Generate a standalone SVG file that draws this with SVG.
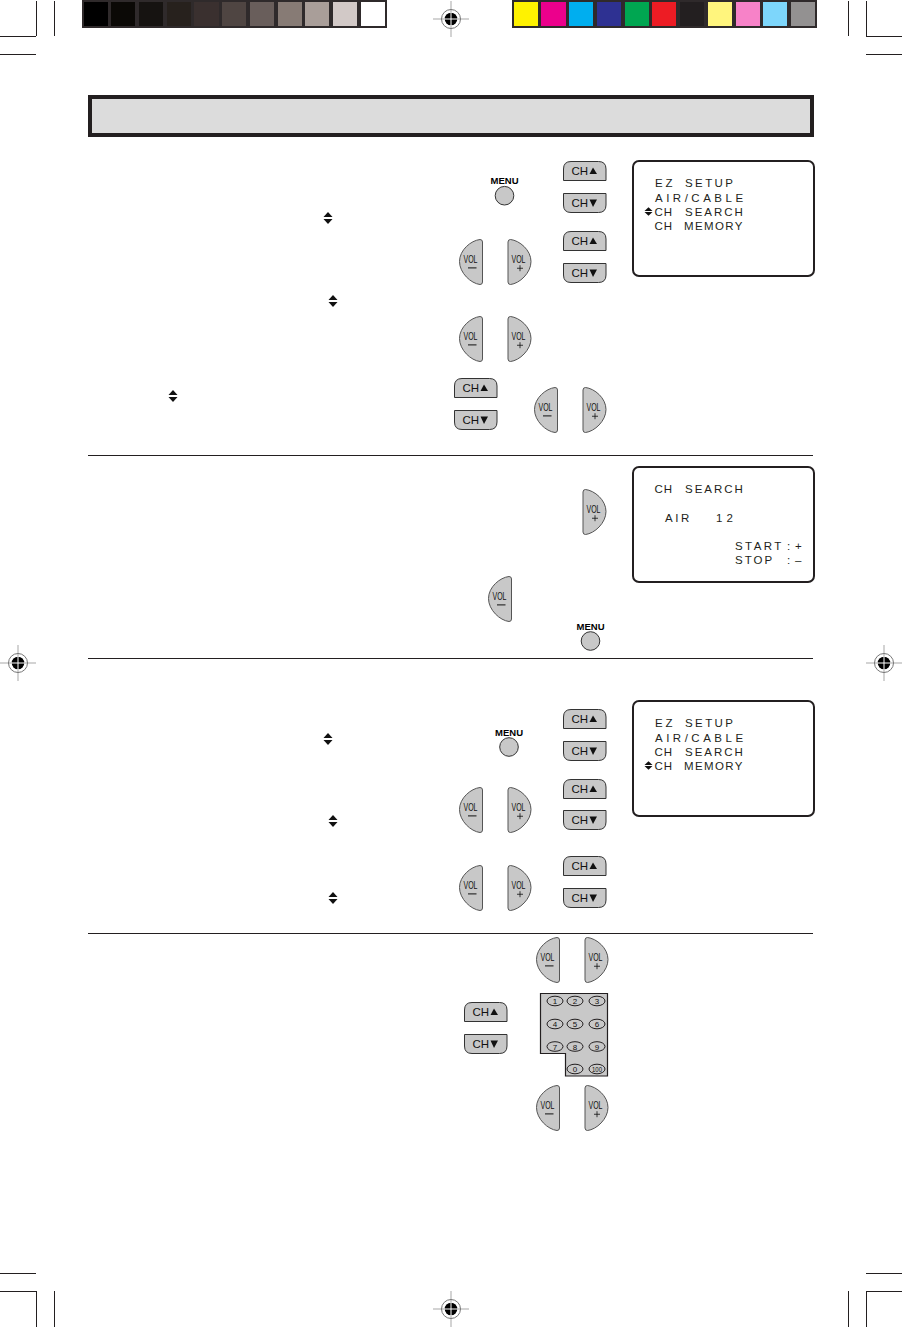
<svg xmlns="http://www.w3.org/2000/svg" width="902" height="1328" viewBox="0 0 902 1328">
<style>
text{font-family:"Liberation Sans",Arial,sans-serif;fill:#111}
.btn{fill:#c8c8c8;stroke:#333;stroke-width:1}
.vb{fill:#c8c8c8;stroke:#555;stroke-width:1}
.crop{stroke:#231f20;stroke-width:1;fill:none}
.rule{stroke:#231f20;stroke-width:1.2;fill:none}
.ch{font-size:11.5px}
.vol{font-size:11.5px}
.menu{font-size:9px;font-weight:bold;fill:#000}
.key{font-size:8px;text-anchor:middle}
.scr{fill:#fff;stroke:#231f20;stroke-width:2}
.st{font-size:11.5px;fill:#231f20}
.ink{fill:#111}
</style>
<defs>
<g id="chup"><path class="btn" d="M.5 19.5V8Q.5 .5 8 .5H35.500Q43 .5 43 8V19.500Z"/><text class="ch" x="8.500" y="13.500">CH</text><polygon class="ink" points="26.500,13 30,6.500 34,13"/></g>
<g id="chdn"><path class="btn" d="M.5 .5V12Q.5 19.500 8 19.500H35.500Q43 19.500 43 12V.5Z"/><text class="ch" x="8.500" y="14">CH</text><polygon class="ink" points="26.500,6.500 30,14 34,6.500"/></g>
<g id="volm"><path class="vb" d="M21 .5Q23.500 .5 23.500 3V43Q23.500 45.500 21 45.500C12 44.500 .5 34 .5 22.500C.5 11 12 1.500 21 .5Z"/><text class="vol" x="4.500" y="24" textLength="14" lengthAdjust="spacingAndGlyphs">VOL</text><rect class="ink" x="9" y="28.400" width="8.500" height="1"/></g>
<g id="volp"><path class="vb" d="M2.500 .5Q0 .5 0 3V43Q0 45.500 2.500 45.500C11.500 44.500 23 34 23 22.500C23 11 11.500 1.500 2.500 .5Z"/><text class="vol" x="3.500" y="24" textLength="14" lengthAdjust="spacingAndGlyphs">VOL</text><rect class="ink" x="9" y="28.800" width="6" height=".8"/><rect class="ink" x="11.600" y="26.200" width=".8" height="6"/></g>
<g id="menu"><text class="menu" x="-14" y="-11.500" textLength="28" lengthAdjust="spacingAndGlyphs">MENU</text><circle class="btn" cx="0" cy="0" r="9.300"/></g>
<g id="ud"><polygon class="ink" points="-4.500,-1 0,-6 4.500,-1"/><polygon class="ink" points="-4.500,1 0,6 4.500,1"/></g>
<g id="ud2"><polygon class="ink" points="-4,-.6 0,-4.200 4,-.6"/><polygon class="ink" points="-4,.6 0,4.200 4,.6"/></g>
<g id="reg"><path d="M-18 0H18M0 -18V18" stroke="#a7a7a7" stroke-width="1" fill="none"/><circle r="9.500" fill="none" stroke="#777" stroke-width="1"/><circle r="6.300" fill="#000"/><path d="M-7 0H7M0 -7V7" stroke="#fff" stroke-width="1" fill="none"/></g>
</defs>

<g id="color-bars">
<rect x="82" y="0" width="305" height="28" fill="#2f2a2b"/>
<rect x="84" y="2" width="24" height="24" fill="#000"/>
<rect x="111" y="2" width="24" height="24" fill="#0b0906"/>
<rect x="139" y="2" width="24" height="24" fill="#161311"/>
<rect x="167" y="2" width="24" height="24" fill="#27211d"/>
<rect x="194" y="2" width="25" height="24" fill="#3a302f"/>
<rect x="222" y="2" width="24" height="24" fill="#4f4542"/>
<rect x="250" y="2" width="24" height="24" fill="#695e5b"/>
<rect x="278" y="2" width="24" height="24" fill="#877b75"/>
<rect x="305" y="2" width="24" height="24" fill="#a99e99"/>
<rect x="333" y="2" width="24" height="24" fill="#d2c9c7"/>
<rect x="361" y="2" width="24" height="24" fill="#fff"/>
<rect x="512" y="0" width="305" height="28" fill="#2f2a2b"/>
<rect x="514" y="2" width="24" height="24" fill="#fff200"/>
<rect x="541" y="2" width="25" height="24" fill="#ec008c"/>
<rect x="569" y="2" width="24" height="24" fill="#00aeef"/>
<rect x="597" y="2" width="24" height="24" fill="#2e3192"/>
<rect x="625" y="2" width="24" height="24" fill="#00a651"/>
<rect x="652" y="2" width="24" height="24" fill="#ed1c24"/>
<rect x="680" y="2" width="24" height="24" fill="#231f20"/>
<rect x="708" y="2" width="24" height="24" fill="#fff57d"/>
<rect x="736" y="2" width="24" height="24" fill="#f782c8"/>
<rect x="763" y="2" width="24" height="24" fill="#7dd6fb"/>
<rect x="791" y="2" width="24" height="24" fill="#939191"/>
</g>

<g id="crop-marks">
<path class="crop" d="M0 36.500H36M0 54.500H36M36.500 1V36M54.500 1V36M848.500 1V36M866.500 1V36M866 36.500H902M866 54.500H902M0 1273.500H36M0 1291.500H36M36.500 1291V1327M54.500 1291V1327M848.500 1291V1327M866.500 1291V1327M866 1273.500H902M866 1291.500H902"/>
<use href="#reg" x="451" y="19"/>
<use href="#reg" x="18" y="663"/>
<use href="#reg" x="884" y="663"/>
<use href="#reg" x="451" y="1309"/>
</g>

<g id="header"><rect x="90" y="97" width="722" height="38" fill="#dcdcdc" stroke="#231f20" stroke-width="4"/></g>

<g id="connectors" class="rule">
<path d="M88 455.500H813M88 658.500H813M88 933.500H813"/>
</g>

<g id="section-1">
<use href="#menu" x="504.500" y="195.700"/>
<use href="#chup" x="563" y="161"/><use href="#chdn" x="563" y="193"/>
<use href="#chup" x="563" y="231"/><use href="#chdn" x="563" y="263"/>
<use href="#volm" x="459" y="239"/><use href="#volp" x="508" y="239"/>
<use href="#volm" x="459" y="316"/><use href="#volp" x="508" y="316"/>
<use href="#chup" x="454" y="378"/><use href="#chdn" x="454" y="410"/>
<use href="#volm" x="534" y="387"/><use href="#volp" x="583" y="387"/>
<use href="#ud" x="328" y="218"/><use href="#ud" x="333" y="301"/><use href="#ud" x="173" y="396"/>
</g>

<g id="screen-1">
<rect class="scr" x="633" y="161" width="181" height="115" rx="6"/>
<text class="st" y="187"><tspan x="655" letter-spacing="2.800">EZ</tspan><tspan x="685" letter-spacing="2.400">SETUP</tspan></text>
<text class="st" y="201.500" x="655" letter-spacing="3.500">AIR/CABLE</text>
<text class="st" y="215.500"><tspan x="654.500" letter-spacing="1">CH</tspan><tspan x="685" letter-spacing="2">SEARCH</tspan></text>
<text class="st" y="230"><tspan x="654.500" letter-spacing="1">CH</tspan><tspan x="684" letter-spacing="1.400">MEMORY</tspan></text>
<use href="#ud2" x="648.500" y="211.500"/>
</g>

<g id="section-2">
<use href="#volp" x="583" y="489"/>
<use href="#volm" x="488" y="576"/>
<use href="#menu" x="590.500" y="641"/>
</g>

<g id="screen-2">
<rect class="scr" x="633" y="467" width="181" height="115" rx="6"/>
<text class="st" y="493"><tspan x="654.500" letter-spacing="1">CH</tspan><tspan x="685" letter-spacing="2">SEARCH</tspan></text>
<text class="st" y="521.500"><tspan x="665" letter-spacing="2.600">AIR</tspan><tspan x="716" letter-spacing="4">12</tspan></text>
<text class="st" y="549.500"><tspan x="735" letter-spacing="2.400">START</tspan><tspan x="787">:</tspan><tspan x="795">+</tspan></text>
<text class="st" y="564"><tspan x="735" letter-spacing="2">STOP</tspan><tspan x="787">:</tspan><tspan x="795">–</tspan></text>
</g>

<g id="section-3">
<use href="#menu" x="509" y="747"/>
<use href="#chup" x="563" y="709"/><use href="#chdn" x="563" y="741"/>
<use href="#chup" x="563" y="779"/><use href="#chdn" x="563" y="810"/>
<use href="#volm" x="459" y="787"/><use href="#volp" x="508" y="787"/>
<use href="#chup" x="563" y="856"/><use href="#chdn" x="563" y="888"/>
<use href="#volm" x="459" y="865"/><use href="#volp" x="508" y="865"/>
<use href="#ud" x="328" y="739"/><use href="#ud" x="333" y="821"/><use href="#ud" x="333" y="898"/>
</g>

<g id="screen-3">
<rect class="scr" x="633" y="701" width="181" height="115" rx="6"/>
<text class="st" y="727"><tspan x="655" letter-spacing="2.800">EZ</tspan><tspan x="685" letter-spacing="2.400">SETUP</tspan></text>
<text class="st" y="741.500" x="655" letter-spacing="3.500">AIR/CABLE</text>
<text class="st" y="755.500"><tspan x="654.500" letter-spacing="1">CH</tspan><tspan x="685" letter-spacing="2">SEARCH</tspan></text>
<text class="st" y="770"><tspan x="654.500" letter-spacing="1">CH</tspan><tspan x="684" letter-spacing="1.400">MEMORY</tspan></text>
<use href="#ud2" x="648.500" y="765.500"/>
</g>

<g id="section-4">
<use href="#volm" x="536" y="937"/><use href="#volp" x="585" y="937"/>
<use href="#chup" x="464" y="1002"/><use href="#chdn" x="464" y="1034"/>
<use href="#volm" x="536" y="1085"/><use href="#volp" x="585" y="1085"/>
</g>

<g id="keypad">
<path d="M540.500 993.500H607.500V1076H565.500V1053.500H540.500Z" fill="#c8c8c8" stroke="#231f20" stroke-width="1.200"/>
<g fill="#c8c8c8" stroke="#231f20" stroke-width="1">
<ellipse cx="555" cy="1001" rx="8" ry="4.800"/><ellipse cx="575" cy="1001" rx="8" ry="4.800"/><ellipse cx="597" cy="1001" rx="8" ry="4.800"/>
<ellipse cx="555" cy="1024" rx="8" ry="4.800"/><ellipse cx="575" cy="1024" rx="8" ry="4.800"/><ellipse cx="597" cy="1024" rx="8" ry="4.800"/>
<ellipse cx="555" cy="1046.500" rx="8" ry="4.800"/><ellipse cx="575" cy="1046.500" rx="8" ry="4.800"/><ellipse cx="597" cy="1046.500" rx="8" ry="4.800"/>
<ellipse cx="575" cy="1069" rx="8" ry="4.800"/><ellipse cx="597" cy="1069" rx="8" ry="4.800"/>
</g>
<text class="key" x="555" y="1004">1</text><text class="key" x="575" y="1004">2</text><text class="key" x="597" y="1004">3</text>
<text class="key" x="555" y="1027">4</text><text class="key" x="575" y="1027">5</text><text class="key" x="597" y="1027">6</text>
<text class="key" x="555" y="1049.500">7</text><text class="key" x="575" y="1049.500">8</text><text class="key" x="597" y="1049.500">9</text>
<text class="key" x="575" y="1072">0</text><text class="key" x="597" y="1072" textLength="10" lengthAdjust="spacingAndGlyphs">100</text>
</g>
</svg>
